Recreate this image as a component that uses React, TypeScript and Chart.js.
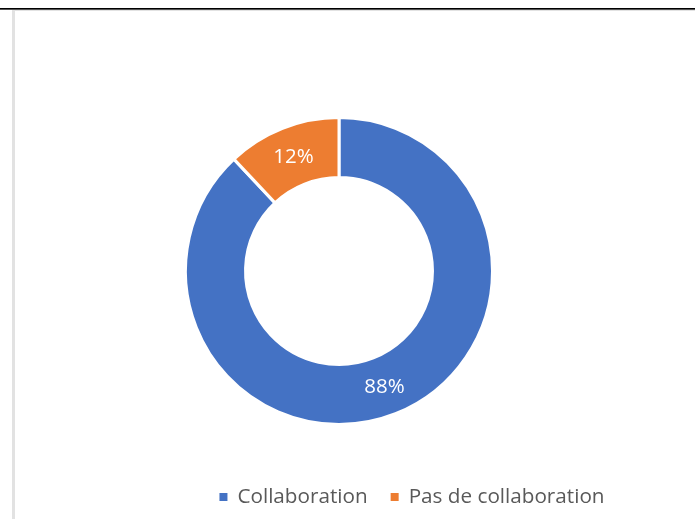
import React, { useEffect, useRef } from "react";
import { Chart, registerables } from "chart.js";
Chart.register(...registerables);

const categories = ["Collaboration", "Pas de collaboration"];
const values = [88, 12];
const colors = ["#4472C4", "#ED7D31"];

const FONT = '"Open Sans", sans-serif';

const sliceLabels = {
  id: "sliceLabels",
  afterDatasetsDraw(chart: any) {
    const ctx = chart.ctx;
    const meta = chart.getDatasetMeta(0);
    const data = chart.data.datasets[0].data as number[];
    const total = data.reduce((a, b) => a + b, 0);
    ctx.save();
    ctx.font = `20.5px ${FONT}`;
    ctx.fillStyle = "#ffffff";
    ctx.textAlign = "center";
    ctx.textBaseline = "middle";
    meta.data.forEach((arc: any, i: number) => {
      const p = arc.tooltipPosition();
      ctx.fillText(Math.round((data[i] / total) * 100) + "%", p.x, p.y + 1);
    });
    ctx.restore();
  },
};

const bottomLegend = {
  id: "bottomLegend",
  afterDraw(chart: any) {
    const ctx = chart.ctx;
    const labels = chart.data.labels as string[];
    const bg = chart.data.datasets[0].backgroundColor as string[];
    ctx.save();
    ctx.font = `20.7px ${FONT}`;
    const box = 8;
    const gap = 10;
    const itemGap = 23;
    const widths = labels.map((l) => ctx.measureText(l).width);
    const total =
      widths.reduce((a, w) => a + box + gap + w, 0) + itemGap * (labels.length - 1);
    let x = 412 - total / 2;
    const cy = 497;
    ctx.textBaseline = "middle";
    ctx.textAlign = "left";
    labels.forEach((l, i) => {
      ctx.fillStyle = bg[i];
      ctx.fillRect(x, cy - box / 2, box, box);
      x += box + gap;
      ctx.fillStyle = "#595959";
      ctx.fillText(l, x, cy);
      x += widths[i] + itemGap;
    });
    ctx.restore();
  },
};

export default function App() {
  const ref = useRef<HTMLCanvasElement | null>(null);
  useEffect(() => {
    if (!ref.current) return;
    const chart = new Chart(ref.current, {
      type: "doughnut",
      data: {
        labels: categories,
        datasets: [
          {
            data: values,
            backgroundColor: colors,
            borderColor: "#ffffff",
            borderWidth: 3,
            hoverOffset: 0,
          },
        ],
      },
      options: {
        responsive: false,
        animation: false,
        devicePixelRatio: 1,
        radius: 153.5,
        cutout: "60.9%",
        layout: { padding: { left: 186, right: 203, top: 118, bottom: 95 } },
        plugins: {
          legend: { display: false },
          tooltip: { enabled: false },
        },
      } as any,
      plugins: [sliceLabels, bottomLegend],
    });
    return () => chart.destroy();
  }, []);

  return (
    <div
      style={{
        position: "fixed",
        left: 0,
        top: 0,
        width: 695,
        height: 519,
        background: "#ffffff",
        overflow: "hidden",
      }}
    >
      <canvas ref={ref} width={695} height={519} style={{ position: "absolute", left: 0, top: 0 }} />
      <div style={{ position: "absolute", left: 0, top: 8, width: 695, height: 1, background: "#000" }} />
      <div style={{ position: "absolute", left: 0, top: 9, width: 695, height: 1, background: "#555" }} />
      <div style={{ position: "absolute", left: 13, top: 10, width: 682, height: 1, background: "#e2e2e2" }} />
      <div style={{ position: "absolute", left: 12, top: 10, width: 3, height: 509, background: "#e2e2e2" }} />
    </div>
  );
}
